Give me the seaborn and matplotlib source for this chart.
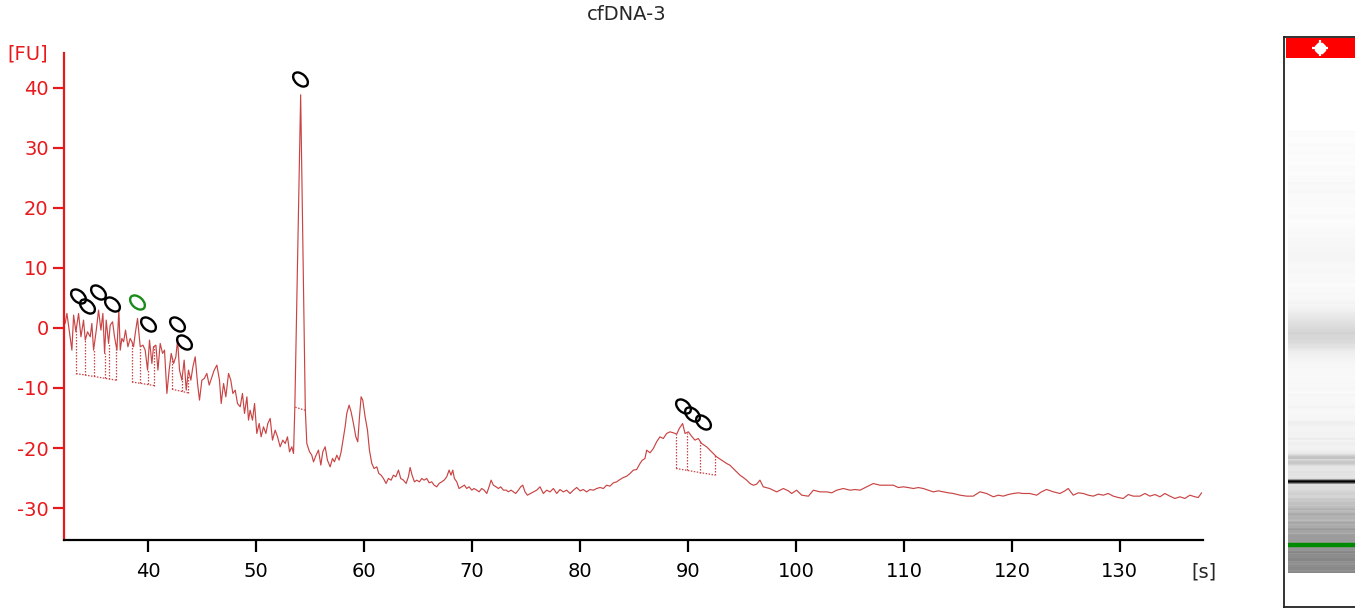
import numpy as np
import pandas as pd
import matplotlib
matplotlib.use("Agg")
import matplotlib.pyplot as plt
from matplotlib.path import Path
from matplotlib.transforms import Affine2D
from matplotlib.patches import Rectangle
from matplotlib.colors import PowerNorm
import seaborn as sns

# ---------------- data ----------------
title = "cfDNA-3"
y_unit = "[FU]"
x_unit = "[s]"
x_ticks = [40, 50, 60, 70, 80, 90, 100, 110, 120, 130]
y_ticks = [-30, -20, -10, 0, 10, 20, 30, 40]

time_s = [
    32.31, 32.47, 32.72, 32.93, 33.09, 33.30, 33.55, 33.77, 34.01, 34.17, 34.38, 34.63, 34.78, 34.94,
    35.19, 35.40, 35.62, 35.80, 35.96, 36.11, 36.33, 36.48, 36.70, 36.88, 37.10, 37.28, 37.41, 37.56,
    37.72, 37.90, 38.12, 38.33, 38.49, 38.64, 38.80, 39.01, 39.26, 39.51, 39.72, 39.94, 40.12, 40.34,
    40.49, 40.71, 40.90, 41.11, 41.33, 41.51, 41.73, 41.94, 42.13, 42.35, 42.56, 42.72, 42.90, 43.12,
    43.33, 43.52, 43.73, 43.95, 44.14, 44.35, 44.57, 44.75, 44.97, 45.19, 45.43, 45.65, 45.90, 46.11,
    46.36, 46.60, 46.76, 46.98, 47.19, 47.44, 47.65, 47.84, 48.06, 48.27, 48.52, 48.73, 48.92, 49.14,
    49.29, 49.44, 49.66, 49.85, 50.06, 50.28, 50.46, 50.68, 50.90, 51.08, 51.30, 51.51, 51.76, 51.98,
    52.22, 52.47, 52.69, 52.90, 53.09, 53.30, 53.46, 53.58, 54.12, 54.55,
    54.69, 54.94, 55.15, 55.31, 55.55, 55.77, 55.99, 56.17, 56.39, 56.60, 56.85, 57.07, 57.25, 57.47,
    57.68, 57.87, 58.02, 58.24, 58.39, 58.61, 58.79, 59.01, 59.23, 59.41, 59.57, 59.72, 59.87, 60.09,
    60.31, 60.49, 60.71, 60.92, 61.17, 61.36, 61.57, 61.79, 62.03, 62.25, 62.50, 62.71, 62.93, 63.18,
    63.39, 63.64, 63.89, 64.10, 64.26, 64.44, 64.66, 64.87, 65.12, 65.34, 65.55, 65.80, 66.02, 66.26,
    66.48, 66.73, 66.94, 67.19, 67.41, 67.65, 67.87, 68.05, 68.21, 68.36, 68.58, 68.79, 69.04, 69.29,
    69.50, 69.72, 69.97, 70.18, 70.43, 70.65, 70.89, 71.11, 71.36, 71.57, 71.76, 71.97, 72.22, 72.44,
    72.65, 72.90, 73.15, 73.36, 73.61, 73.83, 74.04, 74.29, 74.50, 74.69, 74.90, 75.12,
    75.98, 76.29, 76.60, 76.91, 77.22, 77.53, 77.84, 78.14, 78.45, 78.76, 79.07, 79.38, 79.69, 80.00,
    80.30, 80.61, 80.92, 81.23, 81.54, 81.85, 82.16, 82.46, 82.77, 83.08, 83.39, 83.70, 84.01, 84.32,
    84.63, 84.93, 85.24, 85.55, 85.77, 86.01, 86.17, 86.48, 86.79, 87.09, 87.40, 87.71, 88.02, 88.33,
    88.64, 88.95, 89.19, 89.50, 89.72, 90.03, 90.33, 90.64, 90.95, 91.26, 91.72, 92.19, 92.65, 93.11,
    93.58, 93.88, 94.19, 94.50, 94.81, 95.12, 95.43, 95.74, 96.05, 96.35, 96.66, 96.97, 97.56,
    98.21, 98.83, 99.29, 99.60, 100.06, 100.53, 101.15, 101.61, 102.23, 102.84, 103.31, 103.77,
    104.39, 105.00, 105.47, 105.93, 106.55, 107.16, 107.78, 108.40, 109.02, 109.48, 109.94, 110.40,
    110.87, 111.33, 111.79, 112.26, 112.72, 113.18, 113.65, 114.11, 114.57, 115.19,
    115.81, 116.42, 117.04, 117.66, 118.28, 118.74, 119.20, 119.67, 120.13, 120.59, 121.05, 121.67,
    122.29, 122.75, 123.21, 123.83, 124.45, 124.91, 125.22, 125.68, 126.15, 126.61, 127.07, 127.54,
    128.00, 128.46, 128.92, 129.39, 129.85, 130.31, 130.78, 131.24, 131.86, 132.32, 132.78, 133.25,
    133.71, 134.17, 134.63, 135.10, 135.56, 136.02, 136.49, 136.95, 137.26, 137.57,
]

fluorescence = [
    0.74, 2.41, -0.92, -3.70, 2.13, -0.65, 2.41, -1.48, 1.30, -2.03, -0.65, -1.48, 0.74, -3.70,
    -0.37, 2.96, -0.37, 2.41, -4.25, 1.30, -2.59, 0.46, 1.02, -1.48, -3.70, 2.96, -3.70, -1.76,
    -2.31, -0.37, -3.14, -1.76, -2.31, -3.14, -0.92, 1.57, -3.14, -2.87, -3.70, -7.03, -2.03, -5.92,
    -3.14, -2.87, -7.03, -2.59, -4.25, -3.70, -10.91, -7.03, -4.25, -5.92, -4.81, -2.03, -7.03, -8.69,
    -5.36, -10.36, -7.03, -8.69, -6.47, -4.81, -9.25, -12.02, -8.69, -8.42, -7.58, -9.52, -8.14, -7.03,
    -6.20, -8.69, -12.58, -9.25, -11.47, -7.58, -8.69, -10.91, -10.36, -12.58, -13.13, -10.91, -14.24, -11.47,
    -15.35, -13.69, -15.35, -12.58, -17.57, -15.91, -18.13, -16.46, -17.57, -15.91, -15.07, -18.68, -17.02, -18.13,
    -19.79, -18.68, -19.24, -18.13, -20.62, -19.79, -20.90, -13.30, 38.80, -13.50,
    -19.23, -20.62, -21.18, -22.29, -21.18, -20.34, -22.84, -20.62, -19.79, -22.01, -23.12, -21.73, -22.29, -21.18,
    -22.01, -20.62, -18.96, -16.46, -14.24, -12.85, -13.96, -15.90, -18.12, -18.96, -14.79, -11.46, -12.02, -14.79,
    -17.01, -20.34, -22.56, -23.40, -23.12, -24.23, -24.51, -25.06, -25.89, -25.06, -25.34, -24.51, -24.78, -23.67,
    -25.06, -25.34, -25.89, -24.78, -23.23, -24.51, -25.62, -25.34, -25.62, -25.06, -25.34, -25.06, -25.78, -25.62,
    -26.17, -26.45, -25.89, -25.62, -25.34, -24.78, -23.67, -24.51, -23.67, -25.06, -25.62, -26.73, -26.45, -26.17,
    -26.73, -26.45, -27.00, -26.73, -27.00, -27.28, -26.73, -27.00, -27.56, -26.45, -25.34, -26.17, -26.45, -26.73,
    -26.45, -27.00, -27.00, -27.28, -27.00, -27.28, -27.56, -27.00, -26.45, -26.17, -27.28, -27.84,
    -27.01, -26.45, -27.56, -27.01, -27.29, -26.73, -27.56, -26.90, -27.29, -27.01, -27.56, -27.01, -26.56, -27.12,
    -26.90, -27.29, -26.90, -27.01, -26.73, -26.56, -26.73, -26.18, -26.34, -25.79, -25.62, -25.23, -24.90, -24.68,
    -24.23, -23.68, -23.57, -22.57, -22.01, -21.74, -20.35, -20.79, -20.07, -18.96, -18.13, -18.41, -17.57, -17.30,
    -17.46, -17.69, -16.74, -15.91, -17.57, -17.30, -18.02, -18.68, -18.41, -19.24, -19.79, -20.63, -21.46, -22.01,
    -22.57, -22.85, -23.40, -23.96, -24.51, -24.90, -25.34, -25.90, -26.18, -26.01, -25.34, -26.45, -26.73,
    -27.29, -26.73, -27.12, -27.56, -27.01, -27.84, -28.01, -27.01, -27.29, -27.29, -27.45, -27.01,
    -26.73, -27.01, -26.90, -27.01, -26.45, -25.90, -26.18, -26.18, -26.18, -26.57, -26.45, -26.57,
    -26.73, -26.57, -26.73, -27.01, -27.29, -27.12, -27.29, -27.45, -27.56, -27.84,
    -28.00, -28.00, -27.28, -27.56, -28.11, -27.84, -28.00, -27.73, -27.56, -27.45, -27.56, -27.56,
    -27.84, -27.28, -26.89, -27.28, -27.56, -27.12, -26.73, -27.84, -27.45, -27.56, -27.84, -28.00,
    -27.67, -27.84, -27.56, -28.00, -28.23, -28.39, -27.73, -28.00, -28.00, -27.56, -28.00, -27.73,
    -28.11, -27.56, -28.00, -28.39, -28.11, -28.39, -27.84, -28.11, -28.23, -27.45,
]

# peak labels (ovals) : time, level, colour
peak_label_t = [33.52, 34.35, 35.37, 36.67, 38.98, 40.00, 42.69, 43.33, 54.07, 89.54, 90.37, 91.39]
peak_label_v = [5.29, 3.63, 5.96, 3.96, 4.29, 0.63, 0.63, -2.37, 41.4, -13.0, -14.4, -15.7]
peak_label_c = ["black", "black", "black", "black", "green", "black", "black", "black",
                "black", "black", "black", "black"]

# integration baselines: (start t, end t), (start v, end v), boundary times
base_t = [(33.33, 37.04), (38.50, 40.58), (42.20, 43.68), (53.62, 54.52), (88.89, 92.50)]
base_v = [(-7.6, -8.7), (-9.0, -9.6), (-10.2, -10.8), (-13.2, -13.7), (-23.4, -24.5)]
base_cuts = [[33.33, 34.17, 34.94, 35.96, 36.33, 37.04],
             [38.50, 39.28, 39.94, 40.58],
             [42.20, 43.15, 43.68],
             [],
             [88.89, 89.88, 91.11, 92.50]]

lower_marker_t = 38.98
gel_time_range = (24.2, 160.0)

# ---------------- style ----------------
sns.set_style("white")
plt.rcParams["font.family"] = ["DejaVu Sans"]
plt.rcParams["axes.unicode_minus"] = False
RED = "#e8191c"
TRACE = "#c94444"

fig = plt.figure(figsize=(13.55, 6.09), dpi=100)
W, H = 1355, 609
ax = fig.add_axes([64 / W, 69 / H, (1203 - 64) / W, (540 - 52.7) / H])

df = pd.DataFrame({"t": time_s, "v": fluorescence})
sns.lineplot(data=df, x="t", y="v", ax=ax, color=TRACE, linewidth=0.85,
             estimator=None, sort=False)

# integration baselines with boundary drop lines
t_arr = np.array(time_s)
v_arr = np.array(fluorescence)
for (t0, t1), (b0, b1), cuts in zip(base_t, base_v, base_cuts):
    ax.plot([t0, t1], [b0, b1], color=TRACE, lw=0.9, ls=(0, (1.2, 1.2)))
    for c in cuts:
        bl = np.interp(c, [t0, t1], [b0, b1])
        top = np.interp(c, t_arr, v_arr)
        ax.plot([c, c], [bl, top], color=TRACE, lw=0.9, ls=(0, (1.2, 1.2)))

# oval peak labels
oval = Path.unit_circle().transformed(Affine2D().scale(1.0, 0.64).rotate_deg(-42))
for pt, pv, pc in zip(peak_label_t, peak_label_v, peak_label_c):
    ax.plot([pt], [pv], marker=oval, ms=11, mfc="none",
            mec=("#1a8a1a" if pc == "green" else "black"), mew=1.7, ls="none")

ax.set_xlim(32.2, 137.7)
ax.set_ylim(-35.3, 45.8)
ax.set_xticks(x_ticks)
ax.set_yticks(y_ticks)
ax.set_xlabel("")
ax.set_ylabel("")
for s in ["top", "right"]:
    ax.spines[s].set_visible(False)
ax.spines["left"].set_color(RED)
ax.spines["left"].set_linewidth(1.6)
ax.spines["bottom"].set_color("black")
ax.spines["bottom"].set_linewidth(1.6)
ax.tick_params(axis="y", colors=RED, length=8, width=1.6, direction="out",
               labelsize=14, pad=3, left=True)
ax.tick_params(axis="x", colors="black", length=8.5, width=1.6, direction="out",
               labelsize=14, pad=7, bottom=True)

fig.text(627 / W, 1 - 15 / H, title, ha="center", va="center", fontsize=14)
fig.text(7 / W, 1 - 54 / H, y_unit, ha="left", va="center", fontsize=14, color=RED)
fig.text(1204 / W, 1 - 572 / H, x_unit, ha="center", va="center", fontsize=14)

# ---------------- gel lane (built from the same trace) ----------------
gax = fig.add_axes([1284 / W, 2 / H, 81 / W, 570 / H])
gax.set_xlim(0, 1)
gax.set_ylim(*gel_time_range)
n_rows, n_sub = 570, 40
fine_t = np.linspace(gel_time_range[0], gel_time_range[1], n_rows * n_sub)
fine_v = np.interp(fine_t, t_arr, v_arr, left=np.nan, right=np.nan)
with np.errstate(all="ignore"):
    col = np.nanmax(fine_v.reshape(n_rows, n_sub), axis=1) if False else None
rows = fine_v.reshape(n_rows, n_sub)
valid = ~np.all(np.isnan(rows), axis=1)
col = np.full(n_rows, np.nan)
col[valid] = np.nanmax(rows[valid], axis=1)
img = np.ma.masked_invalid(col[:, None])
cmap = plt.get_cmap("Greys").copy()
cmap.set_bad("white")
gax.imshow(img, cmap=cmap, norm=PowerNorm(gamma=0.75, vmin=-28.5, vmax=40), aspect="auto",
           origin="lower", extent=[0.05, 1.0, gel_time_range[0], gel_time_range[1]],
           interpolation="nearest")
gax.plot([0.05, 1.0], [lower_marker_t, lower_marker_t], color="#008a00", lw=3.2,
         solid_capstyle="butt")
gax.add_patch(Rectangle((0.03, 0.963), 0.97, 0.035, transform=gax.transAxes,
                        color="#ff0000", lw=0))
gax.plot([0.44], [0.981], marker="8", ms=8, color="white", transform=gax.transAxes)
gax.plot([0.44], [0.981], marker="+", ms=12, mew=1.6, color="white", transform=gax.transAxes)
gax.set_xticks([])
gax.set_yticks([])
for s in gax.spines.values():
    s.set_color("#222222")
    s.set_linewidth(1.3)

fig.savefig("out.png", dpi=100)
